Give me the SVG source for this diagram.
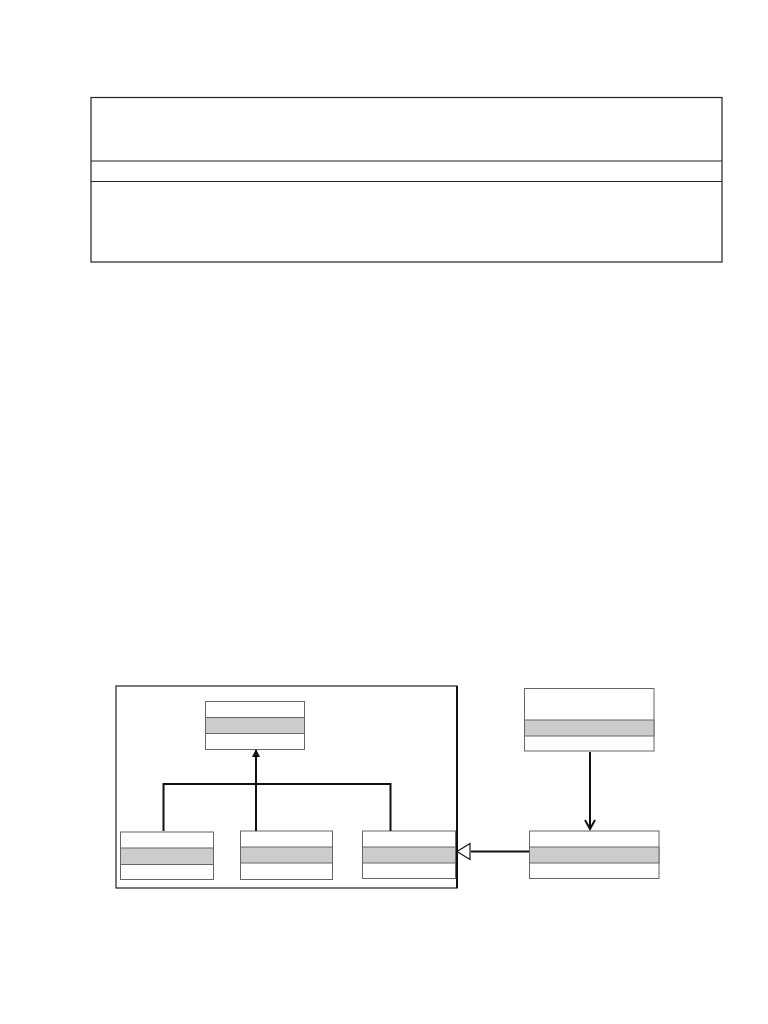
<svg xmlns="http://www.w3.org/2000/svg" width="768" height="1024" viewBox="0 0 768 1024">
<style>
.box{fill:#fff;stroke:#666;stroke-width:1}
.band{fill:#cccccc;stroke:#666;stroke-width:1}
.conn{fill:none;stroke:#111;stroke-width:2}
</style>
<defs>
<marker id="filled" markerWidth="8" markerHeight="8" refX="7" refY="4" orient="auto" markerUnits="userSpaceOnUse">
<path d="M0,0 L8,4 L0,8 z" fill="#111"/>
</marker>
<marker id="open" markerWidth="12" markerHeight="12" refX="10" refY="6" orient="auto" markerUnits="userSpaceOnUse">
<path d="M1,1 L10,6 L1,11" fill="none" stroke="#111" stroke-width="2"/>
</marker>
<marker id="tri" markerWidth="16" markerHeight="18" refX="1" refY="8.5" orient="auto" markerUnits="userSpaceOnUse">
<path d="M14,1 L1,8.5 L14,16 z" fill="#fff" stroke="#111" stroke-width="1.2"/>
</marker>
</defs>
<rect width="768" height="1024" fill="#fff"/>
<g id="top-panel">
<rect x="91" y="97.5" width="631" height="164.5" fill="#fff" stroke="#222" stroke-width="1.2"/>
<line x1="91" y1="161" x2="722" y2="161" stroke="#222" stroke-width="1.2"/>
<line x1="91" y1="181.5" x2="722" y2="181.5" stroke="#222" stroke-width="1.2"/>
</g>
<g id="frame">
<rect x="116" y="686" width="341" height="202" fill="none" stroke="#222" stroke-width="1.2"/>
<line x1="457" y1="686" x2="457" y2="888" stroke="#111" stroke-width="2"/>
</g>
<g id="class-top">
<rect class="box" x="205.5" y="701.5" width="99" height="48"/>
<rect class="band" x="205.5" y="717.5" width="99" height="16"/>
</g>
<g id="class-bl">
<rect class="box" x="120.5" y="832" width="93" height="47.5"/>
<rect class="band" x="120.5" y="848" width="93" height="16.5"/>
</g>
<g id="class-bm">
<rect class="box" x="240.5" y="831" width="92" height="48.5"/>
<rect class="band" x="240.5" y="847" width="92" height="16"/>
</g>
<g id="class-br">
<rect class="box" x="362.5" y="831" width="93" height="47.5"/>
<rect class="band" x="362.5" y="847" width="93" height="16"/>
</g>
<g id="class-rt">
<rect class="box" x="524.5" y="688.5" width="129.5" height="62.5"/>
<rect class="band" x="524.5" y="720" width="129.5" height="16"/>
</g>
<g id="class-rb">
<rect class="box" x="529.5" y="831" width="129.5" height="47.5"/>
<rect class="band" x="529.5" y="847" width="129.5" height="16"/>
</g>
<g id="connectors">
<polyline class="conn" points="163.5,831 163.5,784 390.5,784 390.5,831"/>
<line class="conn" x1="256" y1="831" x2="256" y2="750" marker-end="url(#filled)"/>
<line class="conn" x1="590" y1="752" x2="590" y2="829" marker-end="url(#open)"/>
<line class="conn" x1="529" y1="851.5" x2="471" y2="851.5"/>
<path d="M470,843.5 L457,851.5 L470,859.5 z" fill="#fff" stroke="#111" stroke-width="1.2"/>
</g>
</svg>
